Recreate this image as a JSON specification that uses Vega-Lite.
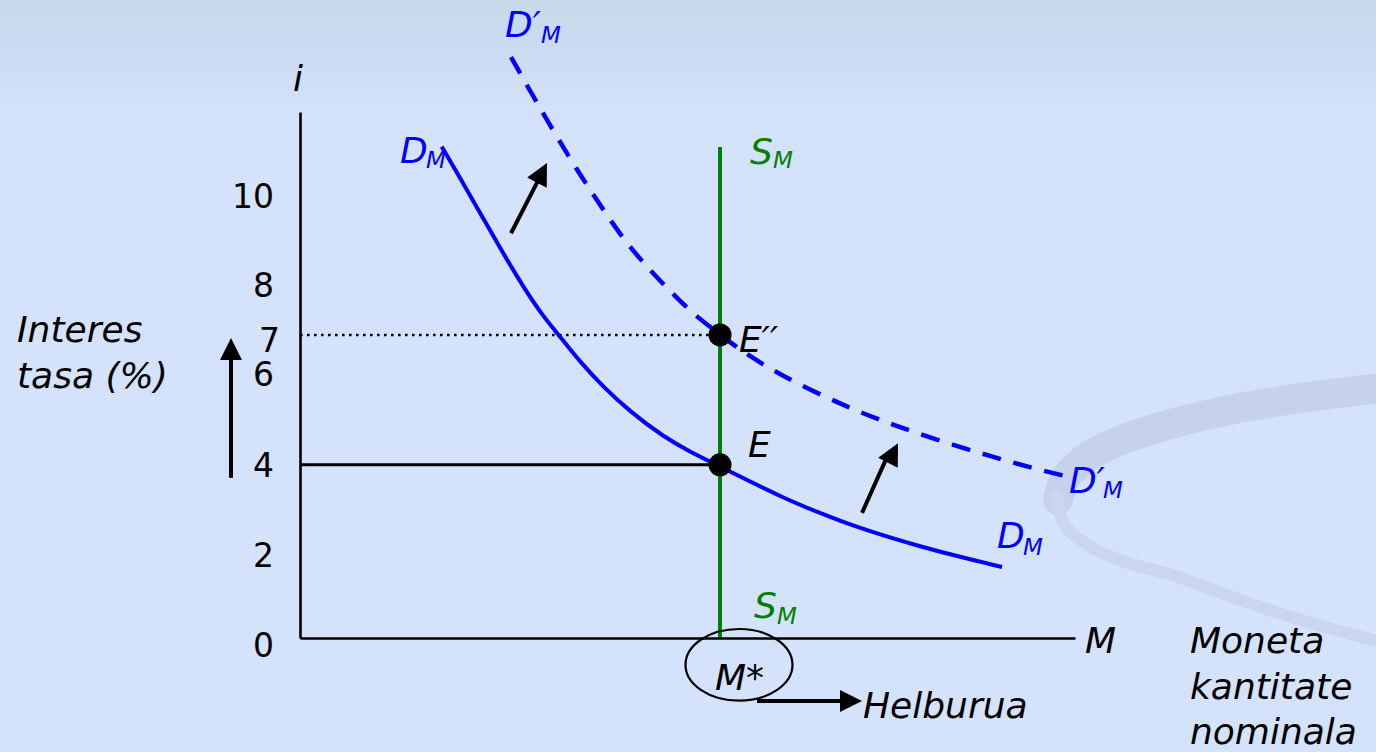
{
  "$schema": "https://vega.github.io/schema/vega-lite/v6.json",
  "width": 775,
  "height": 526,
  "autosize": {"type": "none"},
  "padding": {"left": 300, "top": 112, "right": 301, "bottom": 114},
  "background": "#d5e2fc",
  "config": {"view": {"stroke": null}, "font": "DejaVu Sans"},
  "datasets": {
    "frame": [{"x": -75, "x2": 262, "y": 15, "y2": -3}],
    "swooshUpper": [
      {"x": 257.14, "y": 5.77}, {"x": 238.1, "y": 5.54}, {"x": 221.43, "y": 5.27},
      {"x": 204.76, "y": 4.87}, {"x": 192.86, "y": 4.46}, {"x": 185.24, "y": 4.0},
      {"x": 181.43, "y": 3.53}, {"x": 180.48, "y": 3.19}
    ],
    "swooshLower": [
      {"x": 180.0, "y": 3.3}, {"x": 181.43, "y": 2.73}, {"x": 186.9, "y": 2.19},
      {"x": 195.24, "y": 1.8}, {"x": 207.86, "y": 1.45}, {"x": 223.81, "y": 0.88},
      {"x": 238.1, "y": 0.42}, {"x": 257.14, "y": -0.09}
    ],
    "demand": [
      {"x": 33.74, "y": 11.35}, {"x": 38.88, "y": 10.5}, {"x": 43.64, "y": 9.69},
      {"x": 48.4, "y": 8.88}, {"x": 53.17, "y": 8.11}, {"x": 57.93, "y": 7.42},
      {"x": 62.31, "y": 6.92}, {"x": 66.67, "y": 6.38}, {"x": 72.21, "y": 5.8},
      {"x": 78.57, "y": 5.23}, {"x": 86.5, "y": 4.65}, {"x": 92.86, "y": 4.3},
      {"x": 99.21, "y": 4.0}, {"x": 115.95, "y": 3.19}, {"x": 123.81, "y": 2.89},
      {"x": 130.95, "y": 2.61}, {"x": 147.62, "y": 2.1}, {"x": 167.14, "y": 1.64}
    ],
    "demandShifted": [
      {"x": 50.24, "y": 13.42}, {"x": 55.36, "y": 12.54}, {"x": 59.52, "y": 11.85},
      {"x": 63.81, "y": 11.15}, {"x": 67.98, "y": 10.51}, {"x": 72.5, "y": 9.85},
      {"x": 77.14, "y": 9.2}, {"x": 82.33, "y": 8.6}, {"x": 87.9, "y": 8.03},
      {"x": 93.86, "y": 7.46}, {"x": 100.24, "y": 7.0}, {"x": 104.76, "y": 6.65},
      {"x": 115.0, "y": 6.03}, {"x": 130.24, "y": 5.33}, {"x": 141.19, "y": 4.92},
      {"x": 153.1, "y": 4.53}, {"x": 165.0, "y": 4.18}, {"x": 176.19, "y": 3.88},
      {"x": 184.05, "y": 3.7}
    ],
    "shafts": [
      {"id": "a1", "x": 50.24, "y": 9.35}, {"id": "a1", "x": 57.5, "y": 10.72},
      {"id": "a2", "x": 133.81, "y": 2.89}, {"id": "a2", "x": 140.12, "y": 4.26},
      {"id": "a3", "x": -16.43, "y": 3.7}, {"id": "a3", "x": -16.43, "y": 6.65},
      {"id": "a4", "x": 108.81, "y": -1.455}, {"id": "a4", "x": 130.95, "y": -1.455}
    ],
    "heads": [
      {"id": "a1", "x": 58.81, "y": 10.97, "dir": 27.2},
      {"id": "a2", "x": 142.38, "y": 4.5, "dir": 27.2},
      {"id": "a3", "x": -16.43, "y": 6.93, "dir": 0},
      {"id": "a4", "x": 133.81, "y": -1.455, "dir": 90}
    ],
    "equilibria": [{"x": 100, "y": 4, "name": "E"}, {"x": 100, "y": 7, "name": "E′′"}],
    "target": [{"x": 104.52, "y": -0.62, "name": "M*"}],
    "labels": [
      {"t": "D′", "x": 48.81, "y": 13.88, "c": "demand"},
      {"t": "D", "x": 23.81, "y": 10.97, "c": "demand"},
      {"t": "S", "x": 107.14, "y": 10.95, "c": "supply"},
      {"t": "E′′", "x": 104.52, "y": 6.61, "c": "none"},
      {"t": "E", "x": 106.67, "y": 4.18, "c": "none"},
      {"t": "S", "x": 108.1, "y": 0.46, "c": "supply"},
      {"t": "D", "x": 165.95, "y": 2.08, "c": "demand"},
      {"t": "D′", "x": 183.1, "y": 3.35, "c": "demand"},
      {"t": "M*", "x": 98.81, "y": -1.2, "c": "none"},
      {"t": "Helburua", "x": 134.05, "y": -1.85, "c": "none"},
      {"t": "Interes", "x": -67.38, "y": 6.84, "c": "none"},
      {"t": "tasa (%)", "x": -67.38, "y": 5.77, "c": "none"},
      {"t": "i", "x": -1.67, "y": 12.63, "c": "none"},
      {"t": "M", "x": 186.9, "y": -0.35, "c": "none"},
      {"t": "Moneta", "x": 211.9, "y": -0.35, "c": "none"},
      {"t": "kantitate", "x": 211.9, "y": -1.41, "c": "none"},
      {"t": "nominala", "x": 211.9, "y": -2.46, "c": "none"}
    ],
    "subs": [
      {"t": "M", "x": 57.38, "y": 13.74, "c": "demand"},
      {"t": "M", "x": 30.0, "y": 10.85, "c": "demand"},
      {"t": "M", "x": 112.62, "y": 10.85, "c": "supply"},
      {"t": "M", "x": 113.57, "y": 0.32, "c": "supply"},
      {"t": "M", "x": 172.14, "y": 1.92, "c": "demand"},
      {"t": "M", "x": 191.19, "y": 3.23, "c": "demand"}
    ],
    "ticks": [
      {"t": "10", "x": -6.19, "y": 9.93},
      {"t": "8", "x": -6.19, "y": 7.88},
      {"t": "7", "x": -4.76, "y": 6.61},
      {"t": "6", "x": -6.19, "y": 5.82},
      {"t": "4", "x": -6.19, "y": 3.72},
      {"t": "2", "x": -6.19, "y": 1.64},
      {"t": "0", "x": -6.19, "y": -0.44}
    ]
  },
  "encoding": {
    "x": {
      "field": "x", "type": "quantitative",
      "scale": {"domain": [0, 184.52], "nice": false, "zero": false},
      "axis": {"domain": true, "domainColor": "#000000", "domainWidth": 2.6, "ticks": false, "labels": false, "grid": false, "title": null, "zindex": 1}
    },
    "y": {
      "field": "y", "type": "quantitative",
      "scale": {"domain": [0, 12.15], "nice": false, "zero": false},
      "axis": {"domain": true, "domainColor": "#000000", "domainWidth": 2.6, "ticks": false, "labels": false, "grid": false, "title": null, "zindex": 1}
    }
  },
  "layer": [
    {
      "data": {"name": "frame"},
      "mark": {
        "type": "rect",
        "fill": {
          "gradient": "linear", "x1": 0, "y1": 0, "x2": 0, "y2": 1,
          "stops": [
            {"offset": 0, "color": "#c4d7e8"},
            {"offset": 0.015, "color": "#c6d9ea"},
            {"offset": 0.08, "color": "#cbdcf1"},
            {"offset": 0.145, "color": "#d2e0f7"},
            {"offset": 0.17, "color": "#d5e2fb"},
            {"offset": 1, "color": "#d5e2fc"}
          ]
        }
      },
      "encoding": {"x2": {"field": "x2"}, "y2": {"field": "y2"}}
    },
    {
      "data": {"name": "swooshUpper"},
      "mark": {"type": "line", "color": "#c6d2ea", "strokeWidth": 30, "interpolate": "monotone", "strokeCap": "round"},
      "encoding": {}
    },
    {
      "data": {"name": "swooshLower"},
      "mark": {"type": "line", "color": "#cad6ef", "strokeWidth": 12, "interpolate": "monotone", "strokeCap": "round"},
      "encoding": {}
    },
    {
      "data": {"values": [{"x": 0, "x2": 100, "y": 7}]},
      "mark": {"type": "rule", "color": "#000000", "strokeWidth": 2.6, "strokeDash": [2.6, 4.4]},
      "encoding": {"x2": {"field": "x2"}}
    },
    {
      "data": {"values": [{"x": 0, "x2": 100, "y": 4}]},
      "mark": {"type": "rule", "color": "#000000", "strokeWidth": 3},
      "encoding": {"x2": {"field": "x2"}}
    },
    {
      "data": {"name": "demand"},
      "mark": {"type": "line", "color": "#0000ff", "strokeWidth": 4, "interpolate": "basis"},
      "encoding": {}
    },
    {
      "data": {"name": "demandShifted"},
      "mark": {"type": "line", "color": "#0000ff", "strokeWidth": 4.5, "interpolate": "basis", "strokeDash": [19, 13]},
      "encoding": {}
    },
    {
      "data": {"values": [{"x": 100, "y": 0, "y2": 11.34}]},
      "mark": {"type": "rule", "color": "#008000", "strokeWidth": 4},
      "encoding": {"y2": {"field": "y2"}}
    },
    {
      "data": {"name": "equilibria"},
      "mark": {"type": "point", "shape": "circle", "filled": true, "size": 529, "color": "#000000", "opacity": 1},
      "encoding": {}
    },
    {
      "data": {"name": "shafts"},
      "mark": {"type": "line", "color": "#000000", "strokeWidth": 4},
      "encoding": {"detail": {"field": "id"}}
    },
    {
      "data": {"name": "heads"},
      "mark": {"type": "point", "shape": "M0,0 L1,2 L-1,2 Z", "filled": true, "size": 484, "color": "#000000", "opacity": 1, "strokeWidth": 0},
      "encoding": {"angle": {"field": "dir", "type": "quantitative", "scale": null}}
    },
    {
      "data": {"name": "target"},
      "mark": {"type": "point", "shape": "M-1,0 A1,0.67 0 1,1 1,0 A1,0.67 0 1,1 -1,0 Z", "filled": false, "size": 11449, "color": "#000000", "strokeWidth": 2.2, "opacity": 1},
      "encoding": {}
    },
    {
      "data": {"name": "labels"},
      "mark": {"type": "text", "align": "left", "baseline": "alphabetic", "fontSize": 36, "fontStyle": "italic"},
      "encoding": {
        "text": {"field": "t"},
        "color": {"field": "c", "type": "nominal", "scale": {"domain": ["demand", "supply", "none"], "range": ["#0000ff", "#008000", "#000000"]}, "legend": null}
      }
    },
    {
      "data": {"name": "subs"},
      "mark": {"type": "text", "align": "left", "baseline": "alphabetic", "fontSize": 23, "fontStyle": "italic"},
      "encoding": {
        "text": {"field": "t"},
        "color": {"field": "c", "type": "nominal", "scale": {"domain": ["demand", "supply", "none"], "range": ["#0000ff", "#008000", "#000000"]}, "legend": null}
      }
    },
    {
      "data": {"name": "ticks"},
      "mark": {"type": "text", "align": "right", "baseline": "alphabetic", "fontSize": 33, "color": "#000000"},
      "encoding": {"text": {"field": "t"}}
    }
  ]
}
